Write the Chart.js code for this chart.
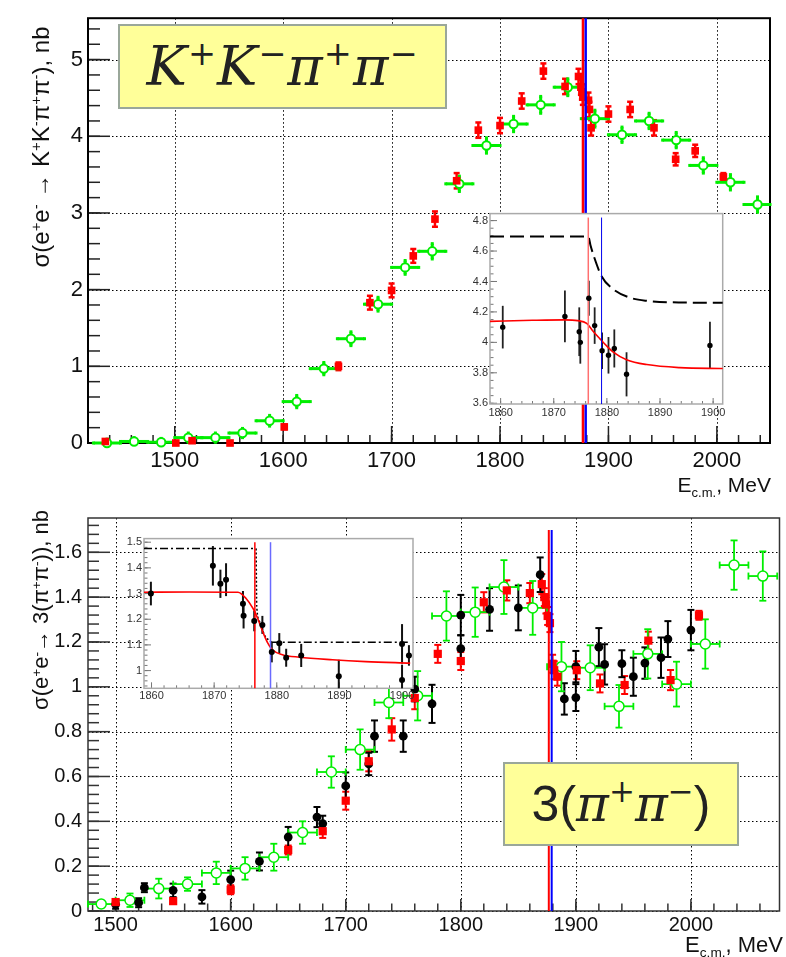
<!DOCTYPE html>
<html>
<head>
<meta charset="utf-8">
<script src="https://cdn.jsdelivr.net/npm/chart.js@4.4.1/dist/chart.umd.min.js"></script>
<style>
html, body { margin: 0; padding: 0; background: #fff; }
#wrap { position: relative; width: 786px; height: 957px; overflow: hidden; font-family: "Liberation Sans", Arial, sans-serif; color: #111; }
canvas { position: absolute; }
.ytitle { position: absolute; white-space: nowrap; transform: translate(-50%, -50%) rotate(-90deg); }
.xtitle { position: absolute; white-space: nowrap; line-height: 22px; }
.ytitle sup, .xtitle sup { font-size: 62%; position: relative; top: -0.55em; vertical-align: baseline; line-height: 0; }
.xtitle sub { font-size: 62%; position: relative; top: 0.35em; vertical-align: baseline; line-height: 0; }
.box { position: absolute; background: #ffff99; border: 2px solid #9aa79a; box-sizing: border-box; display: flex; align-items: center; justify-content: center; color: #222; white-space: nowrap; }
.mth { font-family: "DejaVu Serif", serif; font-style: italic; }
.up { font-family: "Liberation Sans", Arial, sans-serif; }
.box sup { font-size: 62%; font-style: normal; position: relative; top: -0.6em; vertical-align: baseline; line-height: 0; }
</style>
</head>
<body>
<div id="wrap">
  <canvas id="kkMain" width="786" height="483" style="left:0;top:0"></canvas>
  <canvas id="sixMain" width="786" height="457" style="left:0;top:500px"></canvas>
  <canvas id="kkInset" width="290" height="225" style="left:440px;top:205px"></canvas>
  <canvas id="sixInset" width="320" height="180" style="left:100px;top:530px"></canvas>

  <div class="ytitle" style="left:41px;top:147px;font-size:24px">σ(e<sup>+</sup>e<sup>-</sup> → K<sup>+</sup>K<sup>-</sup>π<sup>+</sup>π<sup>-</sup>), nb</div>
  <div class="xtitle" style="right:15px;top:474px;font-size:21px">E<sub>c.m.</sub>, MeV</div>
  <div class="ytitle" style="left:41px;top:610px;font-size:22px">σ(e<sup>+</sup>e<sup>-</sup>→ 3(π<sup>+</sup>π<sup>-</sup>)), nb</div>
  <div class="xtitle" style="right:3px;top:934px;font-size:22px">E<sub>c.m.</sub>, MeV</div>

  <div class="box" style="left:118px;top:24px;width:329px;height:85px"><span class="mth" style="font-size:54px;letter-spacing:1px">K<sup>+</sup>K<sup>−</sup>π<sup>+</sup>π<sup>−</sup></span></div>
  <div class="box" style="left:503px;top:762px;width:236px;height:84px;font-size:50px"><span class="up">3(</span><span class="mth">π<sup>+</sup>π<sup>−</sup></span><span class="up">)</span></div>
</div>

<script>
// ---- K+K-pi+pi- panel ----
const kkGreenE = [1437.5, 1462.5, 1487.5, 1512.5, 1537.5, 1562.5, 1587.5, 1612.5, 1637.5, 1662.5, 1687.5, 1712.5, 1737.5,
    1762.5, 1787.5, 1812.5, 1837.5, 1862.5, 1887.5, 1912.5, 1937.5, 1962.5, 1987.5, 2012.5, 2037.5];
const kkGreenY = [0.00, 0.02, 0.01, 0.07, 0.07, 0.13, 0.29, 0.54, 0.97, 1.36, 1.81, 2.29, 2.50,
    3.38, 3.88, 4.16, 4.41, 4.64, 4.23, 4.02, 4.20, 3.95, 3.62, 3.40, 3.11];
const kkGreenErr = [0.05, 0.05, 0.05, 0.06, 0.06, 0.06, 0.07, 0.08, 0.08, 0.09, 0.09, 0.09, 0.1,
    0.1, 0.1, 0.1, 0.11, 0.11, 0.11, 0.1, 0.1, 0.1, 0.1, 0.1, 0.1];
const binHalfWidth = 12.5;

const kkRedE = [1436, 1501, 1516, 1551, 1601, 1651, 1680, 1700, 1720, 1740, 1760, 1780, 1800, 1820, 1840, 1860,
    1872.4, 1874.6, 1875.5, 1876.4, 1881.6, 1882.5, 1884, 1900, 1920, 1942, 1962, 1980, 2006];
const kkRedY = [0.02, 0.0, 0.03, 0.0, 0.21, 1.0, 1.83, 1.99, 2.44, 2.92, 3.42, 4.08, 4.14, 4.46, 4.85, 4.65,
    4.78, 4.64, 4.58, 4.51, 4.47, 4.35, 4.11, 4.29, 4.35, 4.11, 3.70, 3.81, 3.47];
const kkRedErr = [0.02, 0.02, 0.03, 0.02, 0.03, 0.05, 0.09, 0.09, 0.09, 0.1, 0.1, 0.1, 0.1, 0.1, 0.1, 0.1,
    0.1, 0.1, 0.1, 0.1, 0.1, 0.1, 0.1, 0.1, 0.1, 0.1, 0.08, 0.08, 0.05];

const kkXTicks = [1500, 1600, 1700, 1800, 1900, 2000];
const kkXLabels = ['1500', '1600', '1700', '1800', '1900', '2000'];
const kkYTicks = [0, 1, 2, 3, 4, 5];
const kkYLabels = ['0', '1', '2', '3', '4', '5'];

// inset of the K+K-pi+pi- panel
const kkInE = [1860.4, 1872.1, 1874.8, 1875.0, 1876.6, 1877.7, 1879.1, 1880.3, 1881.4, 1883.7, 1899.4];
const kkInY = [4.10, 4.17, 4.07, 4.00, 4.29, 4.11, 3.945, 3.915, 3.96, 3.79, 3.98];
const kkInErr = [0.14, 0.17, 0.16, 0.14, 0.115, 0.12, 0.12, 0.12, 0.125, 0.145, 0.155];
const kkFitE = [1858, 1866, 1872, 1874.5, 1876.2, 1877.4, 1878.7, 1880, 1881.2, 1883.7, 1887.5, 1893.7, 1902];
const kkFitY = [4.138, 4.145, 4.148, 4.143, 4.125, 4.073, 4.023, 3.975, 3.936, 3.886, 3.854, 3.834, 3.828];
const kkDashE = [1858, 1876.5, 1876.9, 1877.6, 1879, 1881.2, 1884.3, 1887.5, 1893.7, 1902];
const kkDashY = [4.696, 4.696, 4.64, 4.56, 4.435, 4.349, 4.294, 4.273, 4.262, 4.26];
const kkInYTicks = [3.6, 3.8, 4.0, 4.2, 4.4, 4.6, 4.8];
const kkInYLabels = ['3.6', '3.8', '4', '4.2', '4.4', '4.6', '4.8'];

// ---- 3(pi+pi-) panel ----
const sixBlackE = [1500, 1520, 1525, 1550, 1575, 1600, 1625, 1650, 1675, 1680, 1700, 1720, 1725, 1750, 1760, 1775,
    1800, 1800, 1825, 1850, 1869, 1890, 1900, 1900, 1920, 1925, 1940, 1950, 1960, 1974, 1980, 2000];
const sixBlackY = [0.03, 0.037, 0.104, 0.092, 0.063, 0.14, 0.221, 0.33, 0.419, 0.39, 0.558, 0.656, 0.78, 0.78, 0.99, 0.924,
    1.32, 1.17, 1.345, 1.352, 1.50, 0.946, 0.952, 1.09, 1.177, 1.10, 1.103, 1.045, 1.106, 1.13, 1.213, 1.253];
const sixBlackErr = [0.02, 0.02, 0.02, 0.03, 0.03, 0.04, 0.04, 0.045, 0.045, 0.035, 0.06, 0.05, 0.07, 0.07, 0.055, 0.085,
    0.09, 0.06, 0.095, 0.1, 0.077, 0.07, 0.06, 0.07, 0.085, 0.09, 0.06, 0.085, 0.07, 0.09, 0.08, 0.09];

const sixRedE = [1500, 1550, 1600, 1650, 1680, 1700, 1720, 1740, 1760, 1780, 1800, 1820, 1840, 1860,
    1870.4, 1872.6, 1874, 1875.5, 1877.5, 1879.8, 1881.2, 1884, 1900.8, 1921, 1942.4, 1963, 1982.3, 2007];
const sixRedY = [0.04, 0.044, 0.095, 0.272, 0.356, 0.492, 0.668, 0.81, 0.95, 1.147, 1.115, 1.377, 1.43, 1.418,
    1.458, 1.40, 1.367, 1.316, 1.284, 1.103, 1.074, 1.045, 1.074, 1.015, 1.008, 1.206, 1.03, 1.319];
const sixRedErr = [0.012, 0.012, 0.02, 0.02, 0.03, 0.04, 0.045, 0.05, 0.05, 0.04, 0.04, 0.045, 0.045, 0.045,
    0.045, 0.04, 0.04, 0.04, 0.04, 0.04, 0.04, 0.04, 0.04, 0.04, 0.04, 0.04, 0.045, 0.02];

const sixGreenE = [1487.5, 1512.5, 1537.5, 1562.5, 1587.5, 1612.5, 1637.5, 1662.5, 1687.5, 1712.5, 1737.5, 1762.5,
    1787.5, 1812.5, 1837.5, 1862.5, 1887.5, 1912.5, 1937.5, 1962.5, 1987.5, 2012.5, 2037.5, 2062.5];
const sixGreenY = [0.031, 0.048, 0.10, 0.12, 0.17, 0.19, 0.24, 0.35, 0.62, 0.72, 0.93, 0.96,
    1.316, 1.333, 1.445, 1.352, 1.09, 1.085, 0.913, 1.147, 1.012, 1.191, 1.543, 1.494];
const sixGreenErr = [0.015, 0.03, 0.044, 0.03, 0.05, 0.05, 0.06, 0.05, 0.07, 0.09, 0.07, 0.11,
    0.11, 0.11, 0.12, 0.12, 0.11, 0.1, 0.095, 0.11, 0.1, 0.11, 0.11, 0.11];

const sixXTicks = [1500, 1600, 1700, 1800, 1900, 2000];
const sixXLabels = ['1500', '1600', '1700', '1800', '1900', '2000'];
const sixYTicks = [0, 0.2, 0.4, 0.6, 0.8, 1.0, 1.2, 1.4, 1.6];
const sixYLabels = ['0', '0.2', '0.4', '0.6', '0.8', '1', '1.2', '1.4', '1.6'];

// inset of the 3(pi+pi-) panel
const sixInE = [1859.9, 1869.8, 1871.0, 1871.9, 1874.6, 1874.7, 1876.4, 1877.7, 1879.2, 1880.4, 1881.5, 1883.9,
    1889.9, 1900.0, 1901.1, 1900.0];
const sixInY = [1.30, 1.408, 1.338, 1.354, 1.26, 1.214, 1.193, 1.178, 1.072, 1.106, 1.05, 1.059, 0.978, 1.104, 1.059, 0.963];
const sixInErr = [0.046, 0.077, 0.055, 0.064, 0.05, 0.05, 0.04, 0.035, 0.04, 0.04, 0.035, 0.045, 0.064, 0.077, 0.04, 0.06];
const sixFitE = [1858.8, 1866, 1873.8, 1875.1, 1876.2, 1877, 1877.7, 1878.5, 1879.3, 1880.9, 1883.6, 1888.9, 1894.2, 1901.3];
const sixFitY = [1.305, 1.306, 1.305, 1.281, 1.242, 1.20, 1.155, 1.11, 1.081, 1.062, 1.052, 1.042, 1.035, 1.029];
const sixStepHiE = [1858.8, 1876.7];
const sixStepHiY = [1.475, 1.475];
const sixStepMidE = [1876.7, 1876.8, 1877.3, 1878.0, 1879.2];
const sixStepMidY = [1.475, 1.25, 1.19, 1.14, 1.11];
const sixStepLoE = [1879.2, 1901.3];
const sixStepLoY = [1.11, 1.11];
const sixInYTicks = [1.0, 1.1, 1.2, 1.3, 1.4, 1.5];
const sixInYLabels = ['1', '1.1', '1.2', '1.3', '1.4', '1.5'];

const inXTicks = [1860, 1870, 1880, 1890, 1900];
const inXLabels = ['1860', '1870', '1880', '1890', '1900'];

// thresholds: p pbar (red), n nbar (blue)
const thresholdE = [1876.5, 1879.0];

const GREEN = '#00ee00';

function pts(xs, ys) {
    return xs.map((x, i) => ({ x: x, y: ys[i] }));
}

function drawLine(ctx, x1, y1, x2, y2) {
    ctx.beginPath();
    ctx.moveTo(x1, y1);
    ctx.lineTo(x2, y2);
    ctx.stroke();
}

function minorValues(min, max, step) {
    const out = [];
    const first = Math.ceil(min / step - 1e-9);
    const last = Math.floor(max / step + 1e-9);
    for (let k = first; k <= last; k++) out.push(k * step);
    return out;
}

// ROOT-like frame: dotted grid, inward ticks, box, error bars
const rootFrame = {
    id: 'rootFrame',
    beforeDatasetsDraw(chart, args, o) {
        const ctx = chart.ctx;
        const a = chart.chartArea;
        const xs = chart.scales.x, ys = chart.scales.y;
        ctx.save();
        if (o.fill) {
            ctx.fillStyle = '#fff';
            ctx.fillRect(a.left, a.top, a.right - a.left, a.bottom - a.top);
        }
        if (o.grid) {
            ctx.strokeStyle = '#000';
            ctx.lineWidth = 1;
            ctx.setLineDash([1.5, 2.5]);
            o.xMajor.forEach(v => {
                const p = Math.round(xs.getPixelForValue(v)) + 0.5;
                drawLine(ctx, p, a.top, p, a.bottom);
            });
            o.yMajor.forEach(v => {
                const p = Math.round(ys.getPixelForValue(v)) + 0.5;
                drawLine(ctx, a.left, p, a.right, p);
            });
            ctx.setLineDash([]);
        }
        ctx.strokeStyle = o.tickColor;
        ctx.lineWidth = o.tickWidth;
        minorValues(xs.min, xs.max, o.xMinor).forEach(v => {
            const p = xs.getPixelForValue(v);
            drawLine(ctx, p, a.bottom, p, a.bottom - o.xMinorLen);
        });
        o.xMajor.forEach(v => {
            const p = xs.getPixelForValue(v);
            drawLine(ctx, p, a.bottom, p, a.bottom - o.xMajorLen);
        });
        minorValues(ys.min, ys.max, o.yMinor).forEach(v => {
            const p = ys.getPixelForValue(v);
            drawLine(ctx, a.left, p, a.left + o.yMinorLen, p);
        });
        o.yMajor.forEach(v => {
            const p = ys.getPixelForValue(v);
            drawLine(ctx, a.left, p, a.left + o.yMajorLen, p);
        });
        ctx.strokeStyle = o.frameColor;
        ctx.lineWidth = o.frameWidth;
        ctx.strokeRect(a.left, a.top, a.right - a.left, a.bottom - a.top);

        // error bars
        chart.data.datasets.forEach(ds => {
            if (!ds.errY && !ds.errX) return;
            ctx.strokeStyle = ds.errColor;
            ctx.lineWidth = ds.errWidth;
            const cap = ds.errCap || 0;
            ds.data.forEach((pt, j) => {
                const px = xs.getPixelForValue(pt.x), py = ys.getPixelForValue(pt.y);
                if (ds.errY) {
                    const e = ds.errY[j];
                    const top = ys.getPixelForValue(Math.min(pt.y + e, ys.max));
                    const bot = ys.getPixelForValue(Math.max(pt.y - e, ys.min));
                    drawLine(ctx, px, top, px, bot);
                    if (cap) {
                        if (pt.y + e < ys.max) drawLine(ctx, px - cap, top, px + cap, top);
                        if (pt.y - e > ys.min) drawLine(ctx, px - cap, bot, px + cap, bot);
                    }
                }
                if (ds.errX) {
                    const e = Array.isArray(ds.errX) ? ds.errX[j] : ds.errX;
                    const l = xs.getPixelForValue(Math.max(pt.x - e, xs.min));
                    const r = xs.getPixelForValue(Math.min(pt.x + e, xs.max));
                    drawLine(ctx, l, py, r, py);
                    if (cap) {
                        drawLine(ctx, l, py - cap, l, py + cap);
                        drawLine(ctx, r, py - cap, r, py + cap);
                    }
                }
            });
        });
        ctx.restore();
    }
};

function axis(a, dir) {
    return {
        type: 'linear',
        min: a.min,
        max: a.max,
        grid: { display: false, drawTicks: false },
        border: { display: false },
        afterBuildTicks: s => { s.ticks = a.ticks.map(v => ({ value: v })); },
        afterFit: s => {
            if (dir === 'x') s.height = a.size;
            else s.width = a.size;
        },
        ticks: {
            autoSkip: false,
            maxRotation: 0,
            padding: a.pad,
            color: a.color,
            font: { family: "'Liberation Sans', Arial, sans-serif", size: a.font },
            callback: (v, i) => a.labels[i]
        }
    };
}

function makeChart(id, cfg) {
    return new Chart(document.getElementById(id), {
        type: 'scatter',
        data: { datasets: cfg.datasets },
        options: {
            responsive: false,
            animation: false,
            events: [],
            layout: { padding: cfg.padding },
            plugins: {
                legend: { display: false },
                tooltip: { enabled: false },
                rootFrame: cfg.frame
            },
            scales: {
                x: axis(cfg.x, 'x'),
                y: axis(cfg.y, 'y')
            }
        },
        plugins: [rootFrame]
    });
}

function vline(e, y0, y1, color, width, order) {
    return {
        data: pts([e, e], [y0, y1]),
        showLine: true,
        borderColor: color,
        borderWidth: width,
        pointRadius: 0,
        order: order,
        clip: false
    };
}

function curve(xs, ys, color, width, dash, tension, order) {
    return {
        data: pts(xs, ys),
        showLine: true,
        borderColor: color,
        borderWidth: width,
        borderDash: dash,
        pointRadius: 0,
        tension: tension,
        cubicInterpolationMode: tension ? 'monotone' : 'default',
        order: order
    };
}

// top main
makeChart('kkMain', {
    padding: { left: 0, right: 16, top: 10, bottom: 0 },
    x: { min: 1420, max: 2049, ticks: kkXTicks, labels: kkXLabels, size: 40, pad: 5, font: 22, color: '#111' },
    y: { min: 0, max: 5.54, ticks: kkYTicks, labels: kkYLabels, size: 88, pad: 5, font: 22, color: '#111' },
    frame: { grid: true, xMajor: kkXTicks, yMajor: kkYTicks, xMinor: 20, yMinor: 0.2,
        xMajorLen: 17, xMinorLen: 8, yMajorLen: 22, yMinorLen: 12,
        tickColor: '#222', tickWidth: 1.5, frameColor: '#000', frameWidth: 2 },
    datasets: [
        vline(thresholdE[0], 0, 5.54, '#ff0000', 2.5, -2),
        vline(thresholdE[1], 0, 5.54, '#0000ff', 2.5, -1),
        {
            data: pts(kkRedE, kkRedY), pointStyle: 'rect', pointRadius: 5.4,
            backgroundColor: '#ff0000', borderColor: '#ff0000', borderWidth: 0,
            errY: kkRedErr, errColor: '#ff0000', errWidth: 2.5, errCap: 3, order: 1, clip: false
        },
        {
            data: pts(kkGreenE, kkGreenY), pointStyle: 'circle', pointRadius: 4.2,
            backgroundColor: '#fff', borderColor: GREEN, borderWidth: 2,
            errY: kkGreenErr, errX: binHalfWidth, errColor: GREEN, errWidth: 3, errCap: 1.5, order: 2, clip: false
        }
    ]
});

// bottom main
makeChart('sixMain', {
    padding: { left: 0, right: 1, top: 12, bottom: 0 },
    x: { min: 1476, max: 2077, ticks: sixXTicks, labels: sixXLabels, size: 46, pad: 2, font: 20, color: '#111' },
    y: { min: 0, max: 1.753, ticks: sixYTicks, labels: sixYLabels, size: 88, pad: 6, font: 20, color: '#111' },
    frame: { grid: true, xMajor: sixXTicks, yMajor: sixYTicks, xMinor: 20, yMinor: 0.04,
        xMajorLen: 12, xMinorLen: 7.5, yMajorLen: 22, yMinorLen: 11,
        tickColor: '#333', tickWidth: 1.5, frameColor: '#333', frameWidth: 1.5 },
    datasets: [
        vline(thresholdE[0], 0, 1.70, '#ff0000', 2, -2),
        vline(thresholdE[1], 0, 1.70, '#0000ff', 2, -1),
        {
            data: pts(sixRedE, sixRedY), pointStyle: 'rect', pointRadius: 5.8,
            backgroundColor: '#ff0000', borderColor: '#ff0000', borderWidth: 0,
            errY: sixRedErr, errColor: '#ff0000', errWidth: 2, errCap: 3.5, order: 1, clip: false
        },
        {
            data: pts(sixBlackE, sixBlackY), pointStyle: 'circle', pointRadius: 4.4,
            backgroundColor: '#000', borderColor: '#000', borderWidth: 0,
            errY: sixBlackErr, errColor: '#000', errWidth: 2, errCap: 3.5, order: 2, clip: false
        },
        {
            data: pts(sixGreenE, sixGreenY), pointStyle: 'circle', pointRadius: 5,
            backgroundColor: '#fff', borderColor: GREEN, borderWidth: 1.5,
            errY: sixGreenErr, errX: binHalfWidth, errColor: GREEN, errWidth: 1.8, errCap: 3.5, order: 3, clip: false
        }
    ]
});

// top inset
makeChart('kkInset', {
    padding: { left: 0, right: 7.3, top: 7, bottom: 0 },
    x: { min: 1858, max: 1901.8, ticks: inXTicks, labels: inXLabels, size: 26, pad: 2, font: 11, color: '#333' },
    y: { min: 3.595, max: 4.846, ticks: kkInYTicks, labels: kkInYLabels, size: 50, pad: 2, font: 11, color: '#333' },
    frame: { fill: true, grid: false, xMajor: inXTicks, yMajor: kkInYTicks, xMinor: 2, yMinor: 0.05,
        xMajorLen: 6, xMinorLen: 3, yMajorLen: 7, yMinorLen: 3.5,
        tickColor: '#777', tickWidth: 1, frameColor: '#aaa', frameWidth: 1.5 },
    datasets: [
        curve(kkDashE, kkDashY, '#000', 2, [14, 6], 0.4, 5),
        curve(kkFitE, kkFitY, '#ff0000', 1.6, [], 0.4, 4),
        vline(thresholdE[0], 3.595, 4.82, '#ff7070', 1.5, 3),
        vline(thresholdE[1], 3.595, 4.82, '#0000ee', 1, 3),
        {
            data: pts(kkInE, kkInY), pointStyle: 'circle', pointRadius: 2.7,
            backgroundColor: '#000', borderColor: '#000', borderWidth: 0,
            errY: kkInErr, errColor: '#222', errWidth: 1.8, errCap: 0, order: 1
        }
    ]
});

// bottom inset
makeChart('sixInset', {
    padding: { left: 0, right: 7, top: 6.7, bottom: 0 },
    x: { min: 1858.8, max: 1901.75, ticks: inXTicks, labels: inXLabels, size: 21.7, pad: 1, font: 11, color: '#333' },
    y: { min: 0.931, max: 1.514, ticks: sixInYTicks, labels: sixInYLabels, size: 44, pad: 2, font: 11, color: '#333' },
    frame: { fill: true, grid: false, xMajor: inXTicks, yMajor: sixInYTicks, xMinor: 2, yMinor: 0.02,
        xMajorLen: 6, xMinorLen: 3, yMajorLen: 7, yMinorLen: 3.5,
        tickColor: '#777', tickWidth: 1, frameColor: '#aaa', frameWidth: 1.5 },
    datasets: [
        curve(sixStepHiE, sixStepHiY, '#000', 1.5, [8, 3, 2, 3], 0, 5),
        curve(sixStepMidE, sixStepMidY, '#000', 1.5, [2, 2], 0.3, 5),
        curve(sixStepLoE, sixStepLoY, '#000', 1.5, [8, 3, 2, 3], 0, 5),
        curve(sixFitE, sixFitY, '#ff0000', 1.6, [], 0.4, 4),
        vline(thresholdE[0], 0.931, 1.5, '#ff0000', 1.5, 3),
        vline(thresholdE[1], 0.931, 1.5, '#6a6aff', 1.5, 3),
        {
            data: pts(sixInE, sixInY), pointStyle: 'circle', pointRadius: 3,
            backgroundColor: '#000', borderColor: '#000', borderWidth: 0,
            errY: sixInErr, errColor: '#111', errWidth: 2, errCap: 0, order: 1
        }
    ]
});
</script>
</body>
</html>
